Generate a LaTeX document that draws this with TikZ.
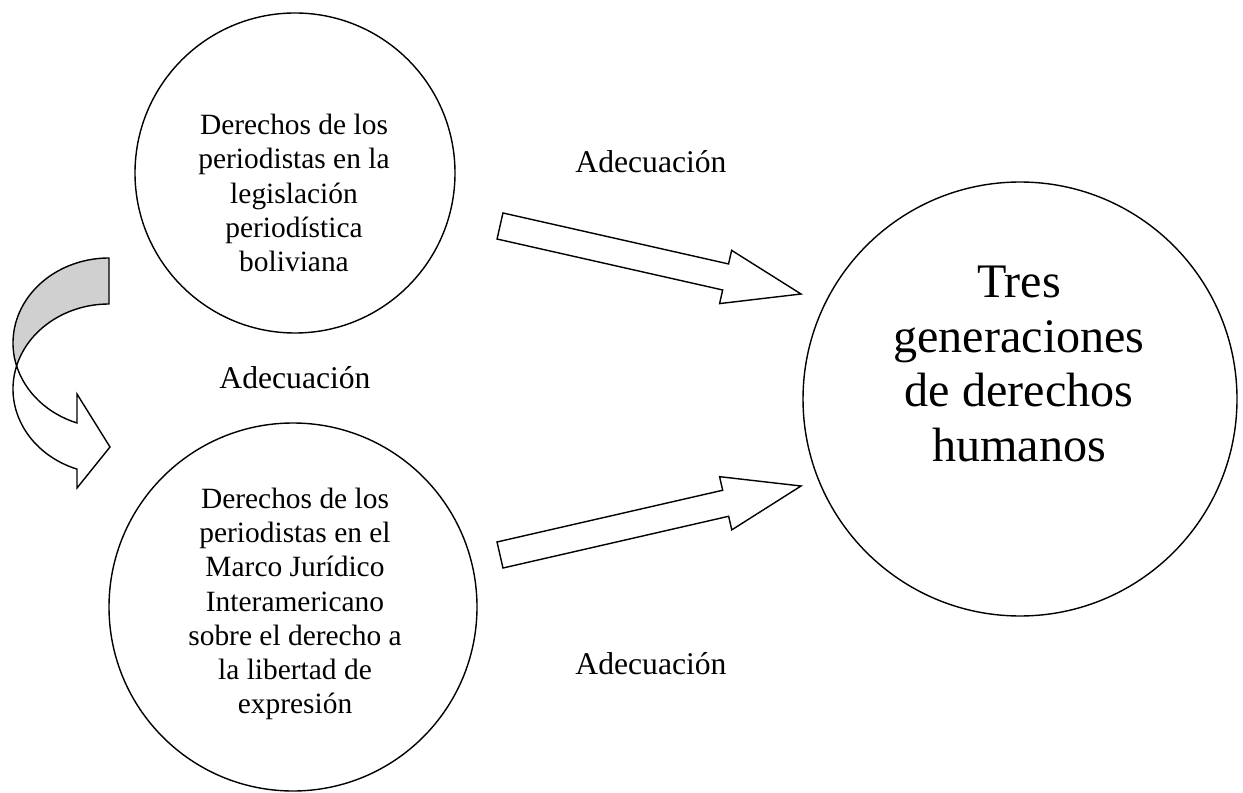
\documentclass[tikz,border=0pt]{standalone}
\usepackage{fontspec}
\setmainfont{Liberation Serif}
\usetikzlibrary{calc}
\definecolor{backgray}{RGB}{208,208,208}

\newcommand{\blockarrow}[2]{%
    \coordinate (hb) at ($(#2)!1.546cm!(#1)$);
    \draw[blockline] ($(#1)!0.267cm!90:(#2)$)
        -- ($(hb)!0.267cm!90:(#2)$)
        -- ($(hb)!0.546cm!90:(#2)$)
        -- (#2)
        -- ($(hb)!0.546cm!-90:(#2)$)
        -- ($(hb)!0.267cm!-90:(#2)$)
        -- ($(#1)!0.267cm!-90:(#2)$)
        -- cycle;
}

\begin{document}
\begin{tikzpicture}[
    bubble/.style={circle,draw,line width=0.8pt,inner sep=0pt},
    smalltext/.style={align=center,font=\fontsize{16.75pt}{19.5pt}\selectfont},
    bigtext/.style={align=center,font=\fontsize{27.4pt}{31.2pt}\selectfont},
    linklabel/.style={anchor=base,font=\fontsize{18pt}{21pt}\selectfont},
    blockline/.style={draw,fill=white,line width=0.8pt,line join=miter},
    ]
    \useasboundingbox (0,0) rectangle (24.86,15.84);

    \node[bubble,minimum size=6.4cm] (legis) at (5.90,12.38) {};
    \node[smalltext] (legistext) at (5.88,11.98)
        {Derechos de los\\periodistas en la\\legislación\\periodística\\boliviana};

    \node[bubble,minimum size=7.36cm] (marco) at (5.86,3.70) {};
    \node[smalltext] (marcotext) at (5.90,3.76)
        {Derechos de los\\periodistas en el\\Marco Jurídico\\Interamericano\\sobre el derecho a\\la libertad de\\expresión};

    \node[bubble,minimum size=8.68cm] (tres) at (20.40,7.86) {};
    \node[bigtext] (trestext) at (20.38,8.56)
        {Tres\\generaciones\\de derechos\\humanos};

    \node[linklabel] (adectop) at (13.02,12.38) {Adecuación};
    \node[linklabel] (adecmid) at (5.90,8.08) {Adecuación};
    \node[linklabel] (adecbot) at (13.02,2.36) {Adecuación};

    \coordinate (tailA) at (10.00,11.32);
    \coordinate (tipA) at (16.02,9.96);
    \coordinate (tailB) at (10.00,4.74);
    \coordinate (tipB) at (16.02,6.12);
    \blockarrow{tailA}{tipA}
    \blockarrow{tailB}{tipB}

    \coordinate (upperc) at (2.18,8.98);
    \coordinate (lowerc) at (2.18,8.06);
    \draw[line width=0.8pt,fill=backgray] ($(upperc)+(0,1.70)$)
        arc[start angle=90,end angle=195.7,x radius=1.92cm,y radius=1.70cm] coordinate (twist)
        arc[start angle=164.3,end angle=90,x radius=1.92cm,y radius=1.70cm]
        -- cycle;
    \draw[blockline] (twist)
        arc[start angle=164.3,end angle=250.5,x radius=1.92cm,y radius=1.70cm]
        -- (1.54,6.08) -- (2.20,6.90) -- (1.54,7.96) -- (1.54,7.38)
        arc[start angle=250.5,end angle=195.7,x radius=1.92cm,y radius=1.70cm]
        -- cycle;
\end{tikzpicture}
\end{document}
